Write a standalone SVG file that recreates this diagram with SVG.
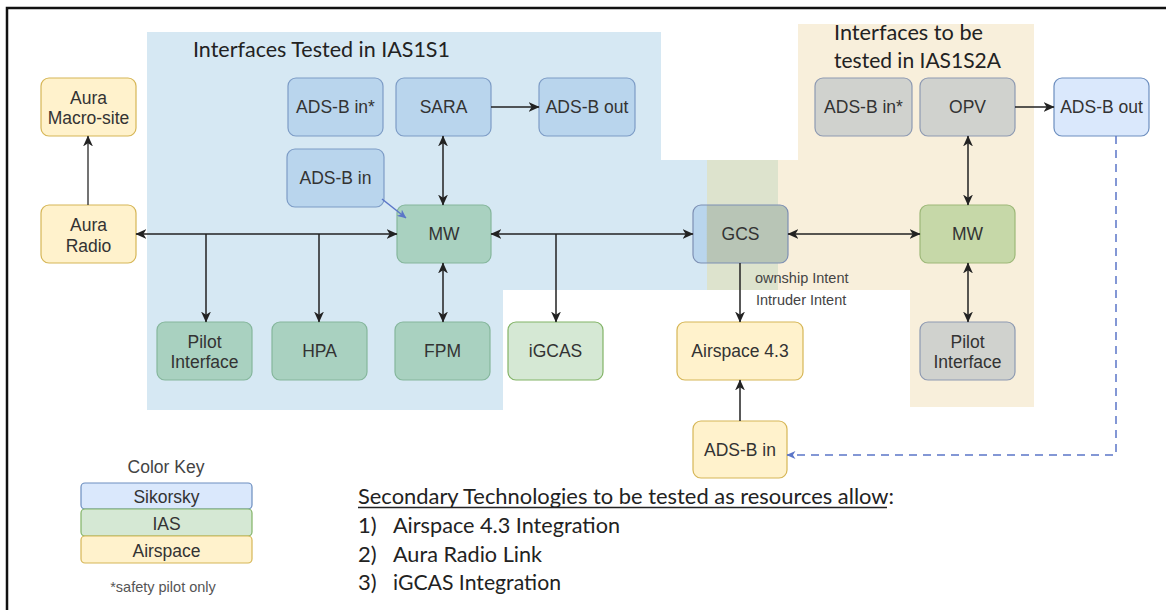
<svg xmlns="http://www.w3.org/2000/svg" width="1166" height="610" viewBox="0 0 1166 610">
  <defs>
    <style>
      .lbl { font-family: "Liberation Sans", Arial, sans-serif; font-size: 17.5px; fill: #333; text-anchor: middle; }
      .note { font-family: "Liberation Sans", Arial, sans-serif; font-size: 14.5px; fill: #444; }
      .cal { font-family: Lato, "Open Sans", sans-serif; font-size: 22px; fill: #222; }
      .box { stroke-width: 1.2; }
      .sik-in { fill: #b9d5ed; stroke: #7d9cc6; }
      .sik { fill: #dae8fc; stroke: #6c8ebf; }
      .ias-in { fill: #a9d1c0; stroke: #85b69c; }
      .ias { fill: #d5e8d4; stroke: #82b366; }
      .air { fill: #fff2cc; stroke: #d6b656; }
      .grey { fill: #d0d2ce; stroke: #8e9ab2; }
      .olive { fill: #c6d8a8; stroke: #9db878; }
      .wire { fill: none; stroke: #222; stroke-width: 1.5; }
      .wire-blue { fill: none; stroke: #5b76c8; stroke-width: 1.5; }
    </style>
    <marker id="arr" viewBox="0 0 10 9" refX="9.5" refY="4.5" markerWidth="11" markerHeight="10" markerUnits="userSpaceOnUse" orient="auto-start-reverse">
      <path d="M0,0 L10,4.5 L0,9 L2.8,4.5 Z" fill="#222"/>
    </marker>
    <marker id="arr-blue" viewBox="0 0 10 9" refX="9.5" refY="4.5" markerWidth="9" markerHeight="8" markerUnits="userSpaceOnUse" orient="auto-start-reverse">
      <path d="M0,0 L10,4.5 L0,9 L2.8,4.5 Z" fill="#5b76c8"/>
    </marker>
    <linearGradient id="gcs-fill" x1="693" y1="0" x2="788" y2="0" gradientUnits="userSpaceOnUse">
      <stop offset="0.14" stop-color="#b9d5ed"/>
      <stop offset="0.15" stop-color="#b8c5b6"/>
      <stop offset="1" stop-color="#b8c5b6"/>
    </linearGradient>
  </defs>

  <rect width="1166" height="610" fill="#ffffff"/>
  <!-- frame -->
  <path d="M7,610 V8 H1166" fill="none" stroke="#111" stroke-width="2.5"/>

  <!-- test-phase regions -->
  <g id="regions">
    <path d="M147,32 H661 V160 H778 V290 H503 V410 H147 Z" fill="#d6e8f3"/>
    <path d="M798,24 H1034 V407 H910 V290 H707 V160 H798 Z" fill="#f8efdb"/>
    <rect x="707" y="160" width="71" height="130" fill="#dde3cd"/>
    <text class="cal" x="193" y="57" textLength="257" lengthAdjust="spacingAndGlyphs">Interfaces Tested in IAS1S1</text>
    <text class="cal" x="834" y="40" textLength="149" lengthAdjust="spacingAndGlyphs">Interfaces to be</text>
    <text class="cal" x="834" y="67.5" textLength="167" lengthAdjust="spacingAndGlyphs">tested in IAS1S2A</text>
  </g>

  <!-- nodes -->
  <g id="aura-macro-site">
    <rect class="box air" x="41" y="78" width="95" height="58" rx="8"/>
    <text class="lbl" x="88.5" y="104">Aura</text>
    <text class="lbl" x="88.5" y="124">Macro-site</text>
  </g>
  <g id="aura-radio">
    <rect class="box air" x="41" y="205" width="95" height="58" rx="8"/>
    <text class="lbl" x="88.5" y="231">Aura</text>
    <text class="lbl" x="88.5" y="252">Radio</text>
  </g>
  <g id="adsb-in-safety-1">
    <rect class="box sik-in" x="288" y="78" width="95" height="58" rx="8"/>
    <text class="lbl" x="335.5" y="113">ADS-B in*</text>
  </g>
  <g id="adsb-in-1">
    <rect class="box sik-in" x="287" y="149" width="97" height="58" rx="8"/>
    <text class="lbl" x="335.5" y="184">ADS-B in</text>
  </g>
  <g id="sara">
    <rect class="box sik-in" x="396" y="78" width="95" height="58" rx="8"/>
    <text class="lbl" x="443.5" y="113">SARA</text>
  </g>
  <g id="adsb-out-1">
    <rect class="box sik-in" x="539" y="78" width="96" height="58" rx="8"/>
    <text class="lbl" x="587" y="113">ADS-B out</text>
  </g>
  <g id="mw-1">
    <rect class="box ias-in" x="397" y="205" width="94" height="58" rx="8"/>
    <text class="lbl" x="444" y="240">MW</text>
  </g>
  <g id="pilot-interface-1">
    <rect class="box ias-in" x="157" y="322" width="95" height="58" rx="8"/>
    <text class="lbl" x="204.5" y="347.5">Pilot</text>
    <text class="lbl" x="204.5" y="368">Interface</text>
  </g>
  <g id="hpa">
    <rect class="box ias-in" x="272" y="322" width="95" height="58" rx="8"/>
    <text class="lbl" x="319.5" y="357">HPA</text>
  </g>
  <g id="fpm">
    <rect class="box ias-in" x="395" y="322" width="95" height="58" rx="8"/>
    <text class="lbl" x="442.5" y="357">FPM</text>
  </g>
  <g id="igcas">
    <rect class="box ias" x="508" y="322" width="95" height="58" rx="8"/>
    <text class="lbl" x="555.5" y="357">iGCAS</text>
  </g>
  <g id="gcs">
    <rect class="box" x="693" y="205" width="95" height="58" rx="8" fill="url(#gcs-fill)" stroke="#7d8fb3"/>
    <text class="lbl" x="740.5" y="240">GCS</text>
  </g>
  <g id="airspace-4-3">
    <rect class="box air" x="677" y="322" width="126" height="58" rx="8"/>
    <text class="lbl" x="740" y="357">Airspace 4.3</text>
  </g>
  <g id="adsb-in-2">
    <rect class="box air" x="693" y="421" width="94" height="57" rx="8"/>
    <text class="lbl" x="740" y="455.5">ADS-B in</text>
  </g>
  <g id="adsb-in-safety-2">
    <rect class="box grey" x="815" y="78" width="97" height="58" rx="8"/>
    <text class="lbl" x="863.5" y="113">ADS-B in*</text>
  </g>
  <g id="opv">
    <rect class="box grey" x="920" y="78" width="95" height="58" rx="8"/>
    <text class="lbl" x="967.5" y="113">OPV</text>
  </g>
  <g id="adsb-out-2">
    <rect class="box sik" x="1054" y="78" width="95" height="58" rx="8"/>
    <text class="lbl" x="1101.5" y="113">ADS-B out</text>
  </g>
  <g id="mw-2">
    <rect class="box olive" x="920" y="205" width="95" height="58" rx="8"/>
    <text class="lbl" x="967.5" y="240">MW</text>
  </g>
  <g id="pilot-interface-2">
    <rect class="box grey" x="920" y="322" width="95" height="58" rx="8"/>
    <text class="lbl" x="967.5" y="347.5">Pilot</text>
    <text class="lbl" x="967.5" y="368">Interface</text>
  </g>

  <!-- connectors (drawn over the boxes so the short feed arrow stays visible) -->
  <g id="connectors">
    <path class="wire" d="M88,205 V136" marker-end="url(#arr)" style="stroke:#444"/>
    <path class="wire" d="M136,234 H397" marker-start="url(#arr)" marker-end="url(#arr)"/>
    <path class="wire" d="M206,234 V322" marker-end="url(#arr)"/>
    <path class="wire" d="M319,234 V322" marker-end="url(#arr)"/>
    <path class="wire" d="M491,107 H539" marker-end="url(#arr)"/>
    <path class="wire" d="M443,136 V205" marker-start="url(#arr)" marker-end="url(#arr)"/>
    <path class="wire-blue" d="M382,199 L406,218" marker-end="url(#arr-blue)"/>
    <path class="wire" d="M443,263 V322" marker-start="url(#arr)" marker-end="url(#arr)"/>
    <path class="wire" d="M491,234 H693" marker-start="url(#arr)" marker-end="url(#arr)"/>
    <path class="wire" d="M556,234 V322" marker-end="url(#arr)"/>
    <path class="wire" d="M740,263 V322" marker-end="url(#arr)"/>
    <path class="wire" d="M740,421 V380" marker-end="url(#arr)"/>
    <path class="wire" d="M788,234 H920" marker-start="url(#arr)" marker-end="url(#arr)"/>
    <path class="wire" d="M1015,107 H1054" marker-end="url(#arr)"/>
    <path class="wire" d="M968,136 V205" marker-start="url(#arr)" marker-end="url(#arr)"/>
    <path class="wire" d="M968,263 V322" marker-start="url(#arr)" marker-end="url(#arr)"/>
    <path class="wire-blue" d="M1116,136 V455 H787" stroke-dasharray="8,6" marker-end="url(#arr-blue)"/>
    <text class="note" x="755" y="283">ownship Intent</text>
    <text class="note" x="756" y="305">Intruder Intent</text>
  </g>

  <!-- colour key -->
  <g id="color-key">
    <text class="lbl" x="166" y="473" style="fill:#444">Color Key</text>
    <rect class="box sik" x="81" y="483" width="171" height="26" rx="4"/>
    <text class="lbl" x="166.5" y="503">Sikorsky</text>
    <rect class="box ias" x="81" y="509" width="171" height="27" rx="4"/>
    <text class="lbl" x="166.5" y="530">IAS</text>
    <rect class="box air" x="81" y="536" width="171" height="27" rx="4"/>
    <text class="lbl" x="166.5" y="557">Airspace</text>
    <text class="note" x="163" y="592" text-anchor="middle" style="fill:#555">*safety pilot only</text>
  </g>

  <!-- secondary technologies list -->
  <g id="secondary-list">
    <text class="cal" x="358" y="504" textLength="536" lengthAdjust="spacingAndGlyphs">Secondary Technologies to be tested as resources allow:</text>
    <line x1="358" y1="507.5" x2="887" y2="507.5" stroke="#222" stroke-width="1.3"/>
    <text class="cal" x="358" y="533">1)</text>
    <text class="cal" x="393" y="533" textLength="227" lengthAdjust="spacingAndGlyphs">Airspace 4.3 Integration</text>
    <text class="cal" x="358" y="562">2)</text>
    <text class="cal" x="393" y="562" textLength="149" lengthAdjust="spacingAndGlyphs">Aura Radio Link</text>
    <text class="cal" x="358" y="590">3)</text>
    <text class="cal" x="393" y="590" textLength="168" lengthAdjust="spacingAndGlyphs">iGCAS Integration</text>
  </g>
</svg>
